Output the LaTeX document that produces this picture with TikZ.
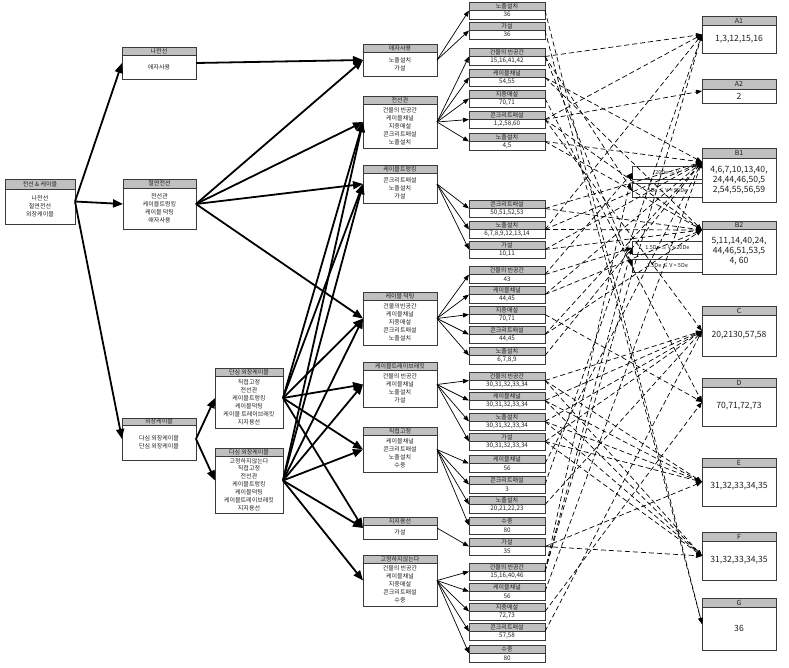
\documentclass[tikz,border=0pt]{standalone}
\usepackage{fontspec}
\newfontfamily\kr{Noto Sans CJK KR}
\usetikzlibrary{arrows.meta,fit}
\definecolor{boxc}{HTML}{3A3A3A}
\definecolor{hdrc}{HTML}{C0C0C0}
\definecolor{txc}{HTML}{202020}
\newcommand{\bx}[8]{%
  \node[bxframe, fit={(#2,#3)(#4,#6)}] (#1) {};
  \draw[bxhdr] (#2,#3) rectangle (#4,#5);
  \node[htx] (#1h) at ({(#2+#4)/2},{(#3+#5)/2}) {#7};
  \node[btx] (#1b) at ({(#2+#4)/2},{(#5+#6)/2}) {#8};
}
\newcommand{\lf}[4]{%
  \node[bxframe, fit={(469,#2)(545,#2+17)}] (#1) {};
  \draw[bxhdr] (469,#2) rectangle (545,#2+8.5);
  \node[htx] (#1h) at (507,#2+4.25) {#3};
  \node[ltx] (#1b) at (507,#2+12.75) {#4};
}
\newcommand{\rb}[7]{%
  \node[bxframe, fit={(702,#2)(776,#4)}] (#1) {};
  \draw[bxhdr] (702,#2) rectangle (776,#3);
  \node[rhtx] (#1h) at (739,{(#2+#3)/2}) {#5};
  \node[rbtx] (#1b) at (739,{(#3+#4)/2}) {#6};
}
\begin{document}
\begin{tikzpicture}[x=1pt,y=-1pt,
  bxframe/.style={draw=boxc, line width=0.9pt, inner sep=0pt, outer sep=0pt},
  bxhdr/.style={draw=boxc, line width=0.9pt, fill=hdrc},
  htx/.style={font=\kr\fontsize{6}{6}\selectfont, inner sep=0pt, text=txc},
  btx/.style={font=\kr\fontsize{6}{7.9}\selectfont, inner sep=0pt, align=center, text=txc},
  ltx/.style={font=\kr\fontsize{6.3}{6}\selectfont, inner sep=0pt, text=txc},
  rhtx/.style={font=\kr\fontsize{7}{7}\selectfont, inner sep=0pt, text=txc},
  rbtx/.style={font=\kr\fontsize{8.6}{10}\selectfont, inner sep=0pt, align=center, text=txc},
  labbox/.style={draw=boxc, line width=0.7pt, inner sep=0pt, font=\kr\fontsize{5.5}{5.5}\selectfont, text=txc},
  thk/.style={line width=1.8pt, -{Triangle[length=10pt,width=8pt]}},
  thn/.style={line width=0.7pt, -{Triangle[length=6pt,width=4.5pt]}},
  dsh/.style={line width=0.7pt, dash pattern=on 5pt off 3pt, -{Triangle[length=6pt,width=4.5pt]}}
]
\useasboundingbox[fill=white] (0,0) rectangle (789,667);

% left levels
\bx{root}{5}{179}{75}{189}{224}{전선 \& 케이블}{나전선\\절연전선\\외장케이블}
\bx{bare}{122}{47}{196}{55}{79}{나전선}{애자사용}
\bx{ins}{123}{179}{196}{188}{229}{절연전선}{전선관\\케이블트렁킹\\케이블 덕팅\\애자사용}
\bx{shc}{122}{418}{196}{425}{460}{외장케이블}{다심 외장케이블\\단심 외장케이블}
\bx{sgl}{215}{368}{283}{376}{428}{단심 외장케이블}{직접고정\\전선관\\케이블트렁킹\\케이블덕팅\\케이블 트레이브래킷\\지지용선}
\bx{mul}{215}{448}{283}{456}{513}{다심 외장케이블}{고정하지않는다\\직접고정\\전선관\\케이블트렁킹\\케이블덕팅\\케이블트레이브래킷\\지지용선}

% middle column
\bx{m1}{363}{44}{437}{52}{76}{애자사용}{노출설치\\가설}
\bx{m2}{363}{96}{437}{104}{148}{전선관}{건물의 빈공간\\케이블채널\\지중매설\\콘크리트매설\\노출설치}
\bx{m3}{363}{165}{437}{173}{203}{케이블트렁킹}{콘크리트매설\\노출설치\\가설}
\bx{m4}{363}{292}{437}{300}{345}{케이블 덕팅}{건물의빈공간\\케이블채널\\지중매설\\콘크리트매설\\노출설치}
\bx{m5}{363}{362}{437}{370}{407}{케이블트레이브래킷}{건물의 빈공간\\케이블채널\\노출설치\\가설}
\bx{m6}{363}{427}{437}{435}{472}{직접고정}{케이블채널\\콘크리트매설\\노출설치\\수중}
\bx{m7}{363}{517}{437}{525}{539}{지지용선}{가설}
\bx{m8}{363}{555}{437}{563}{606}{고정하지않는다}{건물의 빈공간\\케이블채널\\지중매설\\콘크리트매설\\수중}

% leaves
\lf{l1}{2}{노출설치}{36}
\lf{l2}{22}{가설}{36}
\lf{l3}{48}{건물의 빈공간}{15,16,41,42}
\lf{l4}{69}{케이블채널}{54,55}
\lf{l5}{90}{지중매설}{70,71}
\lf{l6}{111}{콘크리트매설}{1,2,58,60}
\lf{l7}{133}{노출설치}{4,5}
\lf{l8}{200}{콘크리트매설}{50,51,52,53}
\lf{l9}{221}{노출설치}{6,7,8,9,12,13,14}
\lf{l10}{241}{가설}{10,11}
\lf{l11}{266}{건물의 빈공간}{43}
\lf{l12}{286}{케이블채널}{44,45}
\lf{l13}{306}{지중매설}{70,71}
\lf{l14}{326}{콘크리트매설}{44,45}
\lf{l15}{347}{노출설치}{6,7,8,9}
\lf{l16}{372}{건물의 빈공간}{30,31,32,33,34}
\lf{l17}{392}{케이블채널}{30,31,32,33,34}
\lf{l18}{413}{노출설치}{30,31,32,33,34}
\lf{l19}{433}{가설}{30,31,32,33,34}
\lf{l20}{455}{케이블채널}{56}
\lf{l21}{476}{콘크리트매설}{3}
\lf{l22}{496}{노출설치}{20,21,22,23}
\lf{l23}{517}{수중}{80}
\lf{l24}{538}{가설}{35}
\lf{l25}{563}{건물의 빈공간}{15,16,40,46}
\lf{l26}{583}{케이블채널}{56}
\lf{l27}{603}{지중매설}{72,73}
\lf{l28}{623}{콘크리트매설}{57,58}
\lf{l29}{645}{수중}{80}

% right column
\rb{A1}{16}{25}{53}{A1}{1,3,12,15,16}{}
\rb{A2}{79}{89}{103}{A2}{2}{}
\rb{B1}{148}{158}{202}{B1}{4,6,7,10,13,40,\\24,44,46,50,5\\2,54,55,56,59}{}
\rb{B2}{221}{229}{274}{B2}{5,11,14,40,24,\\44,46,51,53,5\\4, 60}{}
\rb{C}{306}{315}{356}{C}{20,2130,57,58}{}
\rb{D}{378}{387}{426}{D}{70,71,72,73}{}
\rb{E}{458}{467}{506}{E}{31,32,33,34,35}{}
\rb{F}{532}{541}{580}{F}{31,32,33,34,35}{}
\rb{G}{598}{607}{650}{G}{36}{}

% condition labels
\node[labbox, minimum width=70pt, minimum height=13pt, anchor=north west] (lab1) at (632,166) {20De ≤ V};
\node[labbox, minimum width=70pt, minimum height=14pt, anchor=north west] (lab2) at (632,183) {5De ≤ V < 50De};
\node[labbox, minimum width=70pt, minimum height=13pt, anchor=north west] (lab3) at (632,241) {1.5De ≤ V < 20De};
\node[labbox, minimum width=70pt, minimum height=13pt, anchor=north west] (lab4) at (632,259) {1.5De ≤ V < 5De};

\coordinate (B1in) at (702,162);
\coordinate (B2in) at (702,230);

% thick arrows
\foreach \t in {bare,ins,shc} \draw[thk] (root.east) -- (\t.west);
\draw[thk] (bare.east) -- (m1.west);
\foreach \t in {m1,m2,m3,m4} \draw[thk] (ins.east) -- (\t.west);
\foreach \t in {sgl,mul} \draw[thk] (shc.east) -- (\t.west);
\foreach \t in {m2,m3,m4,m5,m6,m7} \draw[thk] (sgl.east) -- (\t.west);
\foreach \t in {m2,m3,m4,m5,m6,m7,m8} \draw[thk] (mul.east) -- (\t.west);

% middle to leaves
\foreach \t in {l1,l2} \draw[thn] (m1.east) -- (\t.west);
\foreach \t in {l3,l4,l5,l6,l7} \draw[thn] (m2.east) -- (\t.west);
\foreach \t in {l8,l9,l10} \draw[thn] (m3.east) -- (\t.west);
\foreach \t in {l11,l12,l13,l14,l15} \draw[thn] (m4.east) -- (\t.west);
\foreach \t in {l16,l17,l18,l19} \draw[thn] (m5.east) -- (\t.west);
\foreach \t in {l20,l21,l22,l23} \draw[thn] (m6.east) -- (\t.west);
\draw[thn] (m7.east) -- (l24.west);
\foreach \t in {l25,l26,l27,l28,l29} \draw[thn] (m8.east) -- (\t.west);

% leaves to categories
\foreach \s/\t in {l1/G.west, l2/G.west,
  l3/A1.west, l3/lab2.west, l3/lab4.west,
  l4/B1in, l4/B2in, l5/D.west,
  l6/A1.west, l6/A2.west, l6/C.west, l6/B2in,
  l7/B1in, l7/B2in, l8/B1in, l8/B2in,
  l9/B1in, l9/A1.west, l9/B2in, l10/B1in, l10/B2in,
  l11/lab1.west, l11/lab3.west, l12/B1in, l12/B2in,
  l13/D.west, l14/B1in, l14/B2in, l15/B1in,
  l16/C.west, l16/E.west, l16/F.west,
  l17/C.west, l17/E.west, l17/F.west,
  l18/C.west, l18/E.west, l18/F.west,
  l19/C.west, l19/E.west, l19/F.west,
  l20/B1in, l21/A1.west, l22/C.west,
  l24/E.west, l24/F.west,
  l25/A1.west, l25/lab1.west, l25/lab3.west,
  l26/B1in, l27/D.west, l28/C.west}
  \draw[dsh] (\s.east) -- (\t);
\end{tikzpicture}
\end{document}
